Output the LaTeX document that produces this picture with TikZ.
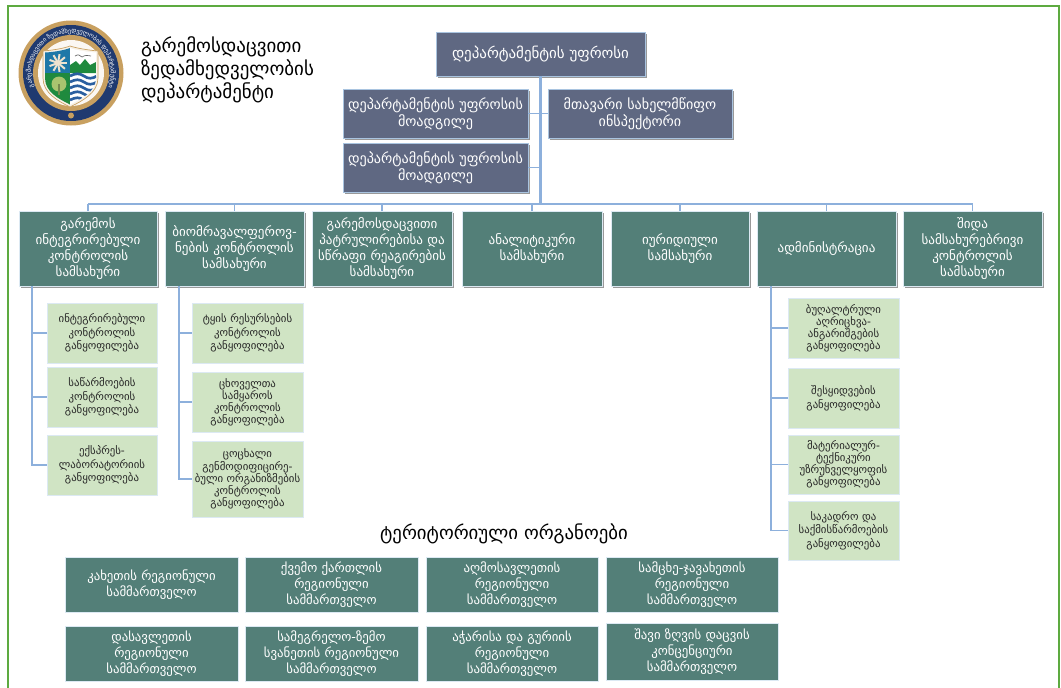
\documentclass[tikz,border=0pt]{standalone}
\usepackage{fontspec}
\usetikzlibrary{shadows,decorations.text}
\newfontfamily\geo{DejaVu Sans}
\definecolor{slatebox}{HTML}{5F6882}
\definecolor{tealbox}{HTML}{537F78}
\definecolor{palegreen}{HTML}{D0E4C4}
\definecolor{edgeblue}{HTML}{A9C4E0}
\definecolor{palededge}{HTML}{DCE9F3}
\definecolor{linkblue}{HTML}{8DB0DC}
\definecolor{framegreen}{HTML}{5DAA40}
\definecolor{sealgold}{HTML}{C8A060}
\definecolor{sealnavy}{HTML}{1F3A70}
\definecolor{shieldblue}{HTML}{1E78A8}
\definecolor{shieldgreen}{HTML}{1F8A3E}
\definecolor{shieldwave}{HTML}{2A5FA0}
\definecolor{treegreen}{HTML}{A9C46F}
\newcommand\pxbox[7]{%
  \pgfmathsetmacro\bw{(#5-#3)*0.75}\pgfmathsetmacro\bh{(#6-#4)*0.75}%
  \node[#1,minimum width=\bw pt,minimum height=\bh pt,text width=\bw pt-2pt] (#2) at ({(#3+#5)/2},{(#4+#6)/2}) {#7};}
\tikzset{
  x=0.75pt,y=-0.75pt,
  base/.style={inner sep=0pt,outer sep=0pt,align=center,font=\geo},
  chief/.style={base,fill=slatebox,draw=edgeblue,line width=0.7pt,text=white,
    font=\geo\fontsize{10.6}{12.4}\selectfont,
    drop shadow={shadow xshift=1.6pt,shadow yshift=-1.8pt,fill=black,opacity=0.4}},
  chieftop/.style={chief,font=\geo\fontsize{11.2}{12.4}\selectfont},
  service/.style={base,fill=tealbox,draw=palededge,line width=0.6pt,text=white,
    font=\geo\fontsize{9.8}{12}\selectfont,
    drop shadow={shadow xshift=1.6pt,shadow yshift=-1.8pt,fill=black,opacity=0.4}},
  unit/.style={base,fill=palegreen,draw=palededge,line width=0.6pt,text=black!85,
    font=\geo\fontsize{8.1}{10.2}\selectfont},
  unitdense/.style={unit,font=\geo\fontsize{8.1}{9.1}\selectfont},
  region/.style={base,fill=tealbox,draw=palededge,line width=0.5pt,text=white,
    font=\geo\fontsize{9.6}{11.9}\selectfont},
  headline/.style={base,align=left,text=black,font=\geo\fontsize{14.2}{17}\selectfont},
  trunk/.style={draw=linkblue,line width=1.7pt},
  branch/.style={draw=linkblue,line width=1pt},
}
\begin{document}
\begin{tikzpicture}
\useasboundingbox (0,0) rectangle (1061,687);
\begin{scope}
\clip (0,0) rectangle (1061,687);
\draw[framegreen,line width=1.6pt] (8,6) rectangle (1059,720);
\end{scope}
% seal
\begin{scope}[shift={(71,73)},x=0.75pt,y=0.75pt]
\fill[sealgold] (0,0) circle (52.5);
\fill[sealnavy] (0,0) circle (48);
\fill[sealgold] (0,0) circle (38);
\fill[white!92!sealgold] (0,0) circle (33);
\path[decorate,decoration={text along path,text align=center,
  text={|\geo\fontsize{4.6}{5}\selectfont\color{white}|გარემოსდაცვითი ზედამხედველობის დეპარტამენტი}}]
  (232:40) arc (232:-52:40);
\fill[sealgold] (0,-42.5) circle (3);
\fill[white!85!sealgold,draw=sealgold,line width=.5pt]
  (-28,22) .. controls (-16,23) and (-6,25) .. (-1,27) .. controls (5,25) and (16,23) .. (27,22)
  -- (27,-5) .. controls (27,-20) and (11,-28) .. (-1,-34) .. controls (-13,-28) and (-28,-20) .. (-28,-5) -- cycle;
\begin{scope}
\clip (-26,20.5) .. controls (-16,21) and (-6,23) .. (-1,25) .. controls (5,23) and (16,21) .. (25,20.5)
  -- (25,-5) .. controls (25,-19) and (10,-26) .. (-1,-31.5) .. controls (-12,-26) and (-26,-19) .. (-26,-5) -- cycle;
\fill[white] (-1,-40) rectangle (30,30);
\fill[shieldblue] (-30,0) rectangle (-1,30);
\fill[shieldgreen] (-30,0) rectangle (-1,-40);
\fill[shieldgreen] (-1,0) -- (-1,8) -- (5,12) -- (9,8) -- (14,14) -- (19,8) -- (25,11) -- (25,0) -- cycle;
\foreach \wy in {-3,-9,-15,-21,-27}
  \draw[shieldwave,line width=2pt] (-1,\wy) .. controls (5,\wy+3) and (8,\wy+3) .. (13,\wy) .. controls (17,\wy-3) and (21,\wy-3) .. (26,\wy);
\foreach \ang in {0,40,...,320}
  \draw[white!70!sealgold,line width=1.5pt] (-13,10) -- +(\ang:9);
\fill[treegreen] (-12,-11) circle (7.5);
\draw[treegreen!70!black,line width=1pt] (-12,-22) -- (-12,-11);
\draw[black!60,line width=.5pt] (4,17) .. controls (7,19) and (9,18) .. (11,16) .. controls (14,18) and (17,18) .. (20,17);
\end{scope}
\end{scope}
% heading
\node[headline,anchor=north west] (heading) at (141,37) {გარემოსდაცვითი\\ზედამხედველობის\\დეპარტამენტი};
% leadership
\pxbox{chieftop}{top}{436}{32}{645}{76}{დეპარტამენტის უფროსი}
\pxbox{chief}{dep1}{343}{89}{528}{138}{დეპარტამენტის უფროსის\\მოადგილე}
\pxbox{chief}{dep2}{343}{143}{528}{192}{დეპარტამენტის უფროსის\\მოადგილე}
\pxbox{chief}{insp}{548}{89}{732}{138}{მთავარი სახელმწიფო\\ინსპექტორი}
% services
\pxbox{service}{s1}{19}{211}{157}{286}{გარემოს\\ინტეგრირებული\\კონტროლის\\სამსახური}
\pxbox{service}{s2}{165}{211}{304}{286}{ბიომრავალფეროვ-\\ნების კონტროლის\\სამსახური}
\pxbox{service}{s3}{312}{211}{452}{286}{გარემოსდაცვითი\\პატრულირებისა და\\სწრაფი რეაგირების\\სამსახური}
\pxbox{service}{s4}{462}{211}{602}{286}{ანალიტიკური\\სამსახური}
\pxbox{service}{s5}{611}{211}{749}{286}{იურიდიული\\სამსახური}
\pxbox{service}{s6}{757}{211}{896}{286}{ადმინისტრაცია}
\pxbox{service}{s7}{903}{211}{1042}{286}{შიდა\\სამსახურებრივი\\კონტროლის\\სამსახური}
% units
\pxbox{unit}{a1}{47}{303}{157}{363}{ინტეგრირებული\\კონტროლის\\განყოფილება}
\pxbox{unit}{a2}{47}{367}{157}{427}{საწარმოების\\კონტროლის\\განყოფილება}
\pxbox{unit}{a3}{47}{435}{157}{495}{ექსპრეს-\\ლაბორატორიის\\განყოფილება}
\pxbox{unit}{b1}{192}{303}{303}{363}{ტყის რესურსების\\კონტროლის\\განყოფილება}
\pxbox{unitdense}{b2}{192}{372}{303}{432}{ცხოველთა\\სამყაროს\\კონტროლის\\განყოფილება}
\pxbox{unitdense}{b3}{192}{441}{303}{517}{ცოცხალი\\გენმოდიფიცირე-\\ბული ორგანიზმების\\კონტროლის\\განყოფილება}
\pxbox{unitdense}{c1}{788}{298}{899}{358}{ბუღალტრული\\აღრიცხვა-\\ანგარიშგების\\განყოფილება}
\pxbox{unit}{c2}{788}{368}{899}{428}{შესყიდვების\\განყოფილება}
\pxbox{unitdense}{c3}{788}{435}{899}{494}{მატერიალურ-\\ტექნიკური\\უზრუნველყოფის\\განყოფილება}
\pxbox{unit}{c4}{788}{501}{899}{560}{საკადრო და\\საქმისწარმოების\\განყოფილება}
% regional
\node[base,font=\geo\fontsize{14.1}{16}\selectfont] (terr) at (504,534) {ტერიტორიული ორგანოები};
\pxbox{region}{r1}{65}{557}{238}{612}{კახეთის რეგიონული\\სამმართველო}
\pxbox{region}{r2}{245}{557}{418}{612}{ქვემო ქართლის\\რეგიონული\\სამმართველო}
\pxbox{region}{r3}{426}{557}{598}{612}{აღმოსავლეთის\\რეგიონული\\სამმართველო}
\pxbox{region}{r4}{606}{557}{778}{612}{სამცხე-ჯავახეთის\\რეგიონული\\სამმართველო}
\pxbox{region}{r5}{65}{626}{238}{681}{დასავლეთის\\რეგიონული\\სამმართველო}
\pxbox{region}{r6}{245}{626}{418}{681}{სამეგრელო-ზემო\\სვანეთის რეგიონული\\სამმართველო}
\pxbox{region}{r7}{426}{626}{598}{681}{აჭარისა და გურიის\\რეგიონული\\სამმართველო}
\pxbox{region}{r8}{606}{623}{778}{680}{შავი ზღვის დაცვის\\კონცენციური\\სამმართველო}
% connectors
\coordinate (hub) at (top.south |- 0,204);
\draw[trunk] (top.south) -- (hub);
\draw[trunk] (s1.north |- hub) -- (s7.north |- hub);
\foreach \s in {s1,s2,s3,s4,s5,s6,s7} \draw[branch] (\s.north) -- (\s.north |- hub);
\draw[branch] (dep1.east) -- (insp.west);
\draw[branch] (dep2.east) -- (dep2.east -| top.south);
\coordinate (ta) at (32,286);
\coordinate (tb) at (179,286);
\coordinate (tc) at (771,286);
\draw[branch] (ta) |- (a3.west);
\draw[branch] (ta |- a1.west) -- (a1.west);
\draw[branch] (ta |- a2.west) -- (a2.west);
\draw[branch] (tb) |- (b3.west);
\draw[branch] (tb |- b1.west) -- (b1.west);
\draw[branch] (tb |- b2.west) -- (b2.west);
\draw[branch] (tc) |- (c4.west);
\draw[branch] (tc |- c1.west) -- (c1.west);
\draw[branch] (tc |- c2.west) -- (c2.west);
\draw[branch] (tc |- c3.west) -- (c3.west);
\end{tikzpicture}
\end{document}
